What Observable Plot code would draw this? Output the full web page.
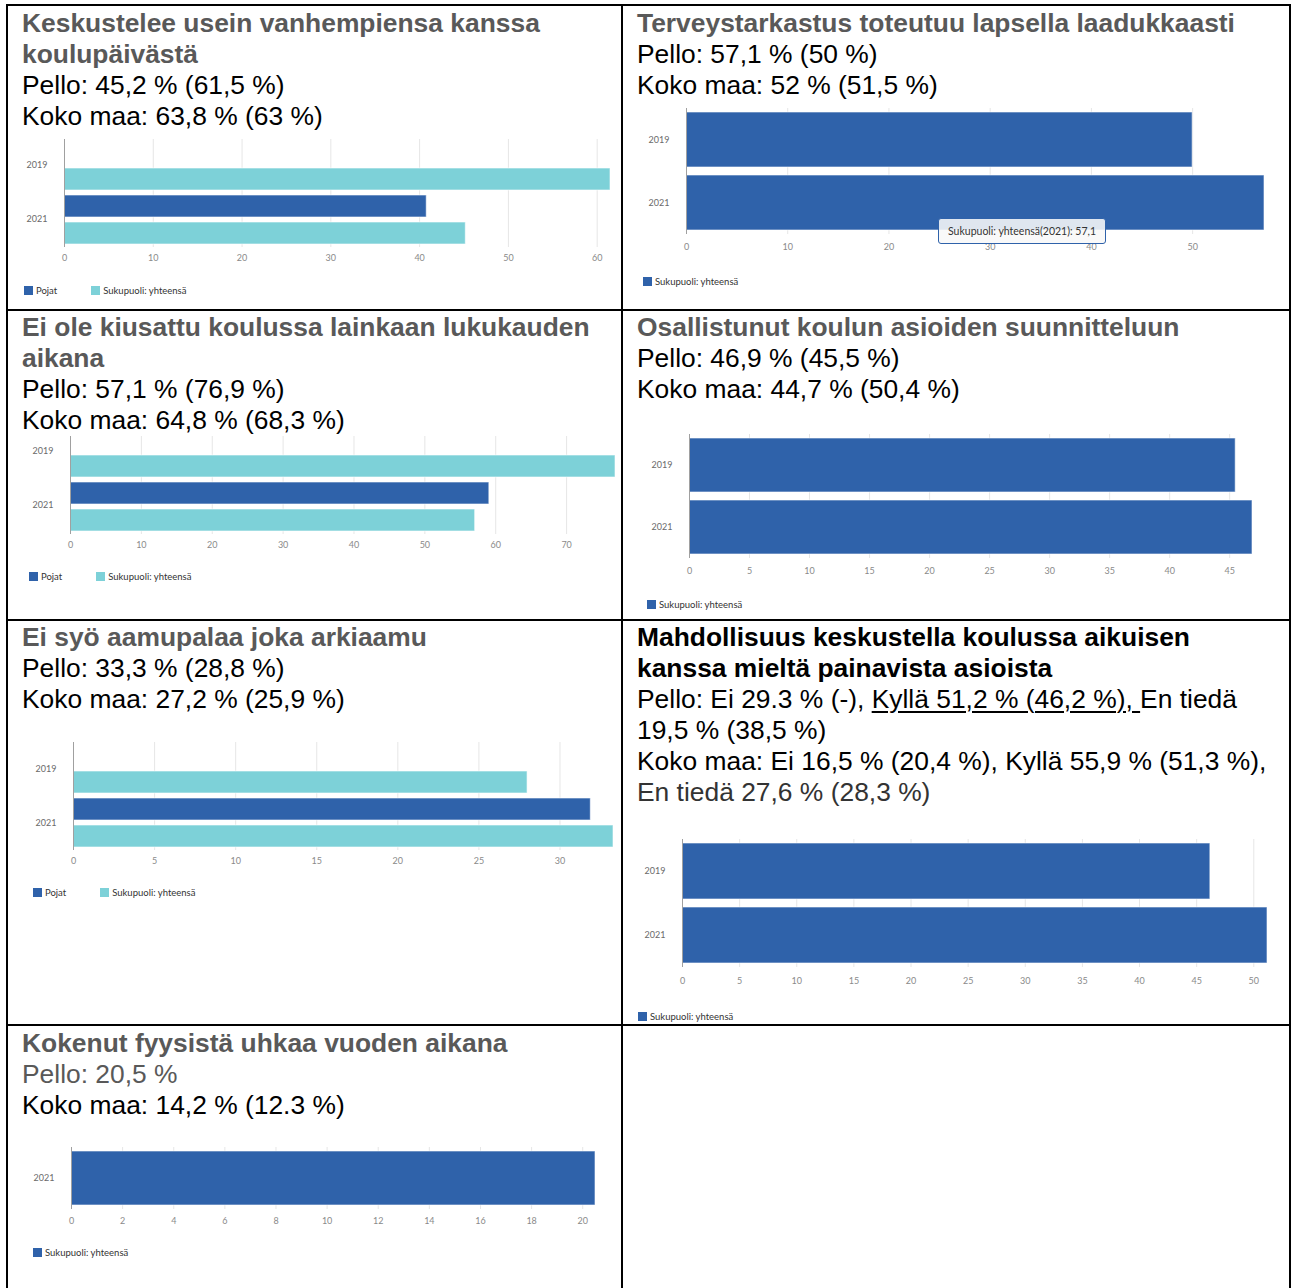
<!DOCTYPE html>
<html><head><meta charset="utf-8">
<script src="https://cdn.jsdelivr.net/npm/d3@7"></script>
<script src="https://cdn.jsdelivr.net/npm/@observablehq/plot@0.6"></script>
<style>
html,body{margin:0;padding:0;background:#fff;}
body{width:1292px;height:1288px;overflow:hidden;position:relative;}
.line{position:absolute;background:#000;}
.txt{position:absolute;font-family:"Liberation Sans",Arial,sans-serif;font-size:26.4px;line-height:31px;white-space:nowrap;color:#000;background:#fff;z-index:2;}
.txt .t{font-weight:bold;color:#595959;}
.txt .t.black{color:#000;}
.txt .grey{color:#595959;}
.txt .dim{color:#333;}
.txt u{text-decoration-thickness:2px;text-underline-offset:3px;}
.chart{position:absolute;z-index:1;}
.chart svg{overflow:visible;}
.chart svg [aria-label="x-axis tick label"]{fill:#8a8a8a;}
.legend{position:absolute;font-family:Lato,sans-serif;font-size:9.5px;color:#333;display:flex;align-items:center;height:12px;z-index:2;}
.legend .item{display:flex;align-items:center;margin-right:34px;}
.legend .sw{display:inline-block;width:9px;height:9px;margin-right:3px;}
.tip{position:absolute;z-index:3;font-family:Lato,sans-serif;font-size:10.5px;color:#333;border:1px solid #2f62aa;border-radius:3px;background:rgba(248,248,248,0.88);display:flex;align-items:center;justify-content:center;box-sizing:border-box;}
</style></head><body>
<script>
// ---------- data ----------
const years = ["2019", "2021"];
const seriesNames = ["Pojat", "Sukupuoli: yhteensä"];
const palette = ["#2f62aa", "#7dd1d8"];

// Keskustelee usein vanhempiensa kanssa koulupäivästä
const c1Pojat = [null, 40.8];
const c1Total = [61.5, 45.2];
const c1Ticks = [0, 10, 20, 30, 40, 50, 60];
// Terveystarkastus toteutuu lapsella laadukkaasti
const c2Total = [50, 57.1];
const c2Ticks = [0, 10, 20, 30, 40, 50];
// Ei ole kiusattu koulussa lainkaan lukukauden aikana
const c3Pojat = [null, 59.1];
const c3Total = [76.9, 57.1];
const c3Ticks = [0, 10, 20, 30, 40, 50, 60, 70];
// Osallistunut koulun asioiden suunnitteluun
const c4Total = [45.5, 46.9];
const c4Ticks = [0, 5, 10, 15, 20, 25, 30, 35, 40, 45];
// Ei syö aamupalaa joka arkiaamu
const c5Pojat = [null, 31.9];
const c5Total = [28.0, 33.3];
const c5Ticks = [0, 5, 10, 15, 20, 25, 30];
// Mahdollisuus keskustella koulussa aikuisen kanssa
const c6Total = [46.2, 51.2];
const c6Ticks = [0, 5, 10, 15, 20, 25, 30, 35, 40, 45, 50];
// Kokenut fyysistä uhkaa vuoden aikana
const c7Years = ["2021"];
const c7Total = [20.5];
const c7Ticks = [0, 2, 4, 6, 8, 10, 12, 14, 16, 18, 20];

// text blocks
const titles = [
  ["Keskustelee usein vanhempiensa kanssa", "koulupäivästä"],
  ["Terveystarkastus toteutuu lapsella laadukkaasti"],
  ["Ei ole kiusattu koulussa lainkaan lukukauden", "aikana"],
  ["Osallistunut koulun asioiden suunnitteluun"],
  ["Ei syö aamupalaa joka arkiaamu"],
  ["Mahdollisuus keskustella koulussa aikuisen", "kanssa mieltä painavista asioista"],
  ["Kokenut fyysistä uhkaa vuoden aikana"]
];
const bodyLines = [
  ["Pello: 45,2 % (61,5 %)", "Koko maa: 63,8 % (63 %)"],
  ["Pello: 57,1 % (50 %)", "Koko maa: 52 % (51,5 %)"],
  ["Pello: 57,1 % (76,9 %)", "Koko maa: 64,8 % (68,3 %)"],
  ["Pello: 46,9 % (45,5 %)", "Koko maa: 44,7 % (50,4 %)"],
  ["Pello: 33,3 % (28,8 %)", "Koko maa: 27,2 % (25,9 %)"],
  ["Pello: Ei 29.3 % (-), <u>Kyllä 51,2 % (46,2 %), </u>En tiedä", "19,5 % (38,5 %)",
   "Koko maa: Ei 16,5 % (20,4 %), Kyllä 55,9 % (51,3 %),", "<span class='dim'>En tiedä 27,6 % (28,3 %)</span>"],
  ["<span class='grey'>Pello: 20,5 %</span>", "Koko maa: 14,2 % (12.3 %)"]
];

// ---------- layout (page positions) ----------
const cells = [
  {x: 22, y: 7.5, w: 596, titleClass: ""},
  {x: 637, y: 7.5, w: 650, titleClass: ""},
  {x: 22, y: 311.5, w: 596, titleClass: ""},
  {x: 637, y: 311.5, w: 650, titleClass: ""},
  {x: 22, y: 621.5, w: 596, titleClass: ""},
  {x: 637, y: 621.5, w: 650, titleClass: "black"},
  {x: 22, y: 1027.5, w: 596, titleClass: ""}
];
const charts = [
  {years, series: seriesNames, values: [c1Pojat, c1Total], ticks: c1Ticks,
   L: {left: 10, top: 139, width: 605, height: 128, ml: 54, tp: 7, ldy: -1, lx: 24, ly: 290}},
  {years, series: [seriesNames[1]], values: [c2Total], ticks: c2Ticks,
   L: {left: 630, top: 107.5, width: 639, height: 146, ml: 56, tp: 9, ldy: 0, lx: 643, ly: 281},
   tip: {index: 1, dx: -326, dy: -12, w: 168, h: 26}},
  {years, series: seriesNames, values: [c3Pojat, c3Total], ticks: c3Ticks,
   L: {left: 12, top: 426, width: 608, height: 128, ml: 58, tp: 7, ldy: -2, lx: 29, ly: 576}},
  {years, series: [seriesNames[1]], values: [c4Total], ticks: c4Ticks,
   L: {left: 630, top: 434, width: 627, height: 144, ml: 59, tp: 9, ldy: 0, lx: 647, ly: 604}},
  {years, series: seriesNames, values: [c5Pojat, c5Total], ticks: c5Ticks,
   L: {left: 12, top: 741.5, width: 606, height: 128, ml: 61, tp: 7, ldy: -0.5, lx: 33, ly: 892}},
  {years, series: [seriesNames[1]], values: [c6Total], ticks: c6Ticks,
   L: {left: 630, top: 839, width: 642, height: 148, ml: 52, tp: 10, ldy: 0, lx: 638, ly: 1016}},
  {years: c7Years, series: [seriesNames[1]], values: [c7Total], ticks: c7Ticks,
   L: {left: 12, top: 1147, width: 588, height: 82, ml: 59, tp: 8, ldy: 0, lx: 33, ly: 1252}}
];

// ---------- table lines ----------
const B = 2;
const hLines = [5, 310, 620, 1025];
const vLines = [7, 622, 1290];
for (const y of hLines) {
  const d = document.createElement("div");
  d.className = "line";
  Object.assign(d.style, {left: (7 - B / 2) + "px", top: (y - B / 2) + "px", width: (1290 - 7 + B) + "px", height: B + "px"});
  document.body.appendChild(d);
}
for (const x of vLines) {
  const d = document.createElement("div");
  d.className = "line";
  Object.assign(d.style, {left: (x - B / 2) + "px", top: (5 - B / 2) + "px", width: B + "px", height: "1300px"});
  document.body.appendChild(d);
}

// ---------- text ----------
cells.forEach((c, i) => {
  const d = document.createElement("div");
  d.className = "txt";
  Object.assign(d.style, {left: c.x + "px", top: c.y + "px", width: c.w + "px"});
  d.innerHTML = titles[i].map(t => `<div class="t ${c.titleClass}">${t}</div>`).join("") +
    bodyLines[i].map(t => `<div>${t}</div>`).join("");
  document.body.appendChild(d);
});

// ---------- charts ----------
const fmt = v => String(v).replace(".", ",");
charts.forEach(spec => {
  const L = spec.L;
  const grouped = spec.series.length > 1;
  const rows = spec.years.flatMap((yr, i) =>
    spec.series.map((s, j) => ({year: yr, series: s, value: spec.values[j][i]})))
    .filter(d => d.value != null);
  const maxV = d3.max(rows, d => d.value);
  const base = {
    width: L.width, height: L.height,
    marginLeft: L.ml, marginRight: 5, marginTop: 0, marginBottom: 20,
    style: {fontFamily: "Lato, sans-serif", fontSize: "9px", color: "#6a6a6a", background: "transparent"},
    x: {domain: [0, maxV], ticks: spec.ticks, tickSize: 0, tickPadding: L.tp, label: null},
    color: {domain: spec.series, range: palette.slice(0, spec.series.length)}
  };
  let plot;
  if (grouped) {
    plot = Plot.plot({
      ...base,
      fy: {domain: spec.years, label: null, padding: 0},
      y: {domain: spec.series, axis: null, paddingInner: 0.18, paddingOuter: 0.09},
      marks: [
        Plot.gridX(spec.ticks, {stroke: "#e6e6e6", strokeOpacity: 1}),
        Plot.barX(rows, {x: "value", y: "series", fy: "year", fill: "series", stroke: "#ffffff", strokeOpacity: 0.6, strokeWidth: 1}),
        Plot.ruleX([0], {stroke: "#a0a0a0"}),
        Plot.axisFy({anchor: "left", tickSize: 0, tickPadding: 17, dy: L.ldy, label: null})
      ]
    });
  } else {
    plot = Plot.plot({
      ...base,
      y: {domain: spec.years, label: null, tickSize: 0, tickPadding: 17, paddingInner: 0.13, paddingOuter: 0.065},
      marks: [
        Plot.gridX(spec.ticks, {stroke: "#e6e6e6", strokeOpacity: 1}),
        Plot.barX(rows, {x: "value", y: "year", fill: "series", stroke: "#ffffff", strokeOpacity: 0.6, strokeWidth: 1}),
        Plot.ruleX([0], {stroke: "#a0a0a0"})
      ]
    });
  }
  const wrap = document.createElement("div");
  wrap.className = "chart";
  Object.assign(wrap.style, {left: L.left + "px", top: L.top + "px"});
  wrap.appendChild(plot);
  document.body.appendChild(wrap);

  // legend from the plot's color scale
  const cs = plot.scale("color");
  const lg = document.createElement("div");
  lg.className = "legend";
  Object.assign(lg.style, {left: L.lx + "px", top: (L.ly - 6) + "px"});
  lg.innerHTML = cs.domain.map((s, k) =>
    `<span class="item"><span class="sw" style="background:${cs.range[k]}"></span>${s}</span>`).join("");
  document.body.appendChild(lg);

  // tooltip anchored at the bar end
  if (spec.tip) {
    const r = rows.filter(d => d.year === spec.years[spec.tip.index])[0];
    const xs = plot.scale("x"), ys = plot.scale("y");
    const xe = L.left + xs.apply(r.value);
    const yb = L.top + ys.apply(r.year) + ys.bandwidth;
    const t = document.createElement("div");
    t.className = "tip";
    Object.assign(t.style, {left: (xe + spec.tip.dx) + "px", top: (yb + spec.tip.dy) + "px",
      width: spec.tip.w + "px", height: spec.tip.h + "px"});
    t.textContent = `${r.series}(${r.year}): ${fmt(r.value)}`;
    document.body.appendChild(t);
  }
});
</script>
</body></html>
